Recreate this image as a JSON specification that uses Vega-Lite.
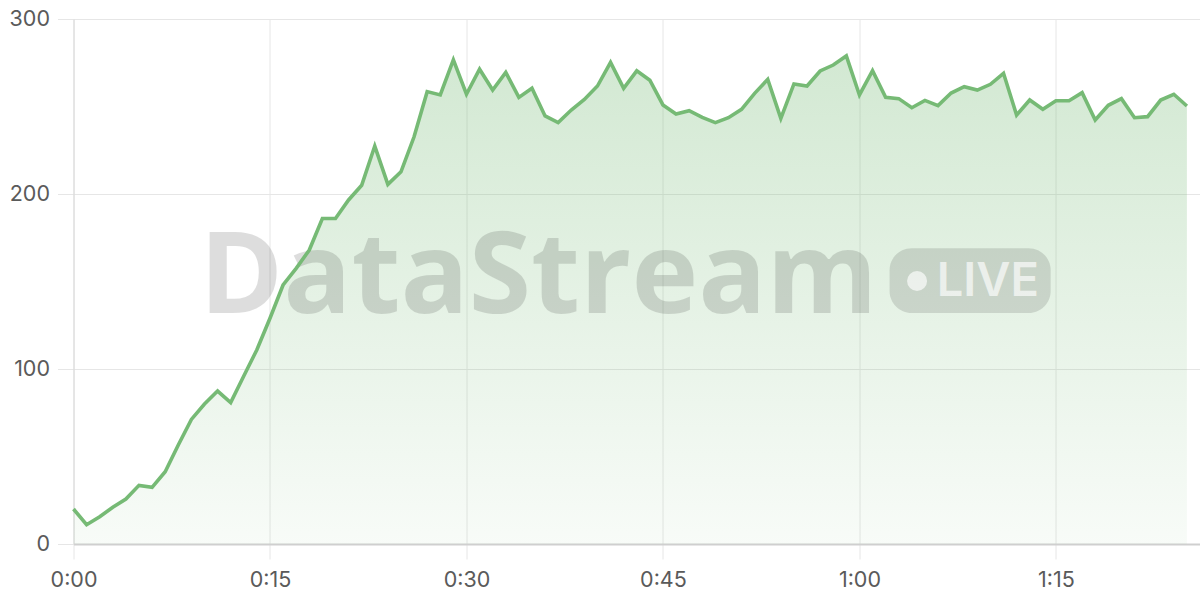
{
  "$schema": "https://vega.github.io/schema/vega-lite/v6.json",
  "autosize": "none",
  "width": 1126.5,
  "height": 525,
  "padding": {"left": 73.5, "top": 19, "right": 0, "bottom": 56},
  "background": "#ffffff",
  "config": {
    "view": {"stroke": null},
    "axis": {
      "labelFont": "Inter",
      "labelFontSize": 21.5,
      "labelColor": "#5a5a5a",
      "gridColor": "#e6e6e6",
      "gridWidth": 1,
      "tickColor": "#e6e6e6",
      "tickSize": 15,
      "title": null
    }
  },
  "datasets": {
    "series": [
      {"t": 0, "v": 20}, {"t": 1, "v": 11}, {"t": 2, "v": 15.6}, {"t": 3, "v": 21}, {"t": 4, "v": 25.7},
      {"t": 5, "v": 33.5}, {"t": 6, "v": 32.4}, {"t": 7, "v": 41.3}, {"t": 8, "v": 56.6}, {"t": 9, "v": 71.2},
      {"t": 10, "v": 80}, {"t": 11, "v": 87.4}, {"t": 12, "v": 80.8}, {"t": 13, "v": 96}, {"t": 14, "v": 111},
      {"t": 15, "v": 129}, {"t": 16, "v": 148}, {"t": 17, "v": 157.5}, {"t": 18, "v": 168}, {"t": 19, "v": 186},
      {"t": 20, "v": 186}, {"t": 21, "v": 196.6}, {"t": 22, "v": 205}, {"t": 23, "v": 227.4}, {"t": 24, "v": 205.5},
      {"t": 25, "v": 212.7}, {"t": 26, "v": 232.7}, {"t": 27, "v": 258.5}, {"t": 28, "v": 256.6}, {"t": 29, "v": 276.6},
      {"t": 30, "v": 257}, {"t": 31, "v": 271.3}, {"t": 32, "v": 259.4}, {"t": 33, "v": 269.5}, {"t": 34, "v": 255.2},
      {"t": 35, "v": 260.4}, {"t": 36, "v": 244.6}, {"t": 37, "v": 240.8}, {"t": 38, "v": 248}, {"t": 39, "v": 254},
      {"t": 40, "v": 261.7}, {"t": 41, "v": 275.2}, {"t": 42, "v": 260.4}, {"t": 43, "v": 270.4}, {"t": 44, "v": 265},
      {"t": 45, "v": 250.9}, {"t": 46, "v": 245.7}, {"t": 47, "v": 247.6}, {"t": 48, "v": 243.8}, {"t": 49, "v": 240.8},
      {"t": 50, "v": 243.6}, {"t": 51, "v": 248.4}, {"t": 52, "v": 257.5}, {"t": 53, "v": 265.5}, {"t": 54, "v": 243.2},
      {"t": 55, "v": 262.9}, {"t": 56, "v": 261.7}, {"t": 57, "v": 270.3}, {"t": 58, "v": 273.7}, {"t": 59, "v": 278.9},
      {"t": 60, "v": 256.6}, {"t": 61, "v": 270.5}, {"t": 62, "v": 255.2}, {"t": 63, "v": 254.5}, {"t": 64, "v": 249.3},
      {"t": 65, "v": 253.5}, {"t": 66, "v": 250.5}, {"t": 67, "v": 257.7}, {"t": 68, "v": 261.3}, {"t": 69, "v": 259.4},
      {"t": 70, "v": 262.7}, {"t": 71, "v": 269}, {"t": 72, "v": 245.1}, {"t": 73, "v": 253.7}, {"t": 74, "v": 248.4},
      {"t": 75, "v": 253.3}, {"t": 76, "v": 253.3}, {"t": 77, "v": 257.9}, {"t": 78, "v": 242.3}, {"t": 79, "v": 250.7},
      {"t": 80, "v": 254.5}, {"t": 81, "v": 243.6}, {"t": 82, "v": 244.2}, {"t": 83, "v": 253.7}, {"t": 84, "v": 257},
      {"t": 85, "v": 250.3}
    ],
    "brand": [{"t": 35.5, "v": 132, "label": "DataStream"}],
    "badge": [{"t": 62.3, "t2": 74.6, "v": 132, "v2": 169}],
    "dot": [{"t": 64.4, "v": 150.3}],
    "live": [{"t": 69.8, "v": 141.5, "label": "LIVE"}]
  },
  "encoding": {
    "x": {
      "field": "t", "type": "quantitative",
      "scale": {"domain": [0, 86], "nice": false},
      "axis": {
        "values": [0, 15, 30, 45, 60, 75],
        "labelExpr": "floor(datum.value / 60) + ':' + (datum.value % 60 < 10 ? '0' : '') + (datum.value % 60)",
        "domainColor": "#cfcfcf",
        "domainWidth": 2,
        "labelPadding": 10,
        "labelFlush": false
      }
    },
    "y": {
      "field": "v", "type": "quantitative",
      "scale": {"domain": [0, 300], "nice": false},
      "axis": {
        "values": [0, 100, 200, 300],
        "domainColor": "#d8d8d8",
        "tickSize": 16,
        "labelPadding": 8
      }
    }
  },
  "layer": [
    {
      "data": {"name": "series"},
      "mark": {
        "type": "area",
        "color": {
          "gradient": "linear",
          "x1": 0, "y1": 0, "x2": 0, "y2": 1,
          "stops": [
            {"offset": 0, "color": "rgba(116,185,116,0.32)"},
            {"offset": 1, "color": "rgba(116,185,116,0.05)"}
          ]
        }
      }
    },
    {
      "data": {"name": "badge"},
      "mark": {"type": "rect", "fill": "#000000", "opacity": 0.12, "cornerRadius": 22},
      "encoding": {
        "x": {"field": "t", "type": "quantitative"},
        "x2": {"field": "t2"},
        "y": {"field": "v", "type": "quantitative"},
        "y2": {"field": "v2"}
      }
    },
    {
      "data": {"name": "dot"},
      "mark": {"type": "circle", "fill": "#ffffff", "opacity": 0.65, "size": 400},
      "encoding": {
        "x": {"field": "t", "type": "quantitative"},
        "y": {"field": "v", "type": "quantitative"}
      }
    },
    {
      "data": {"name": "live"},
      "mark": {"type": "text", "font": "Inter", "fontWeight": 600, "fontSize": 47, "fill": "#ffffff", "opacity": 0.65, "align": "center", "baseline": "alphabetic"},
      "encoding": {
        "x": {"field": "t", "type": "quantitative"},
        "y": {"field": "v", "type": "quantitative"},
        "text": {"field": "label"}
      }
    },
    {
      "data": {"name": "brand"},
      "mark": {"type": "text", "font": "Open Sans", "fontWeight": 700, "fontSize": 113, "fill": "#000000", "opacity": 0.13, "align": "center", "baseline": "alphabetic"},
      "encoding": {
        "x": {"field": "t", "type": "quantitative"},
        "y": {"field": "v", "type": "quantitative"},
        "text": {"field": "label"}
      }
    },
    {
      "data": {"name": "series"},
      "mark": {"type": "line", "color": "#76ba75", "strokeWidth": 3.6, "strokeJoin": "miter"}
    }
  ]
}
